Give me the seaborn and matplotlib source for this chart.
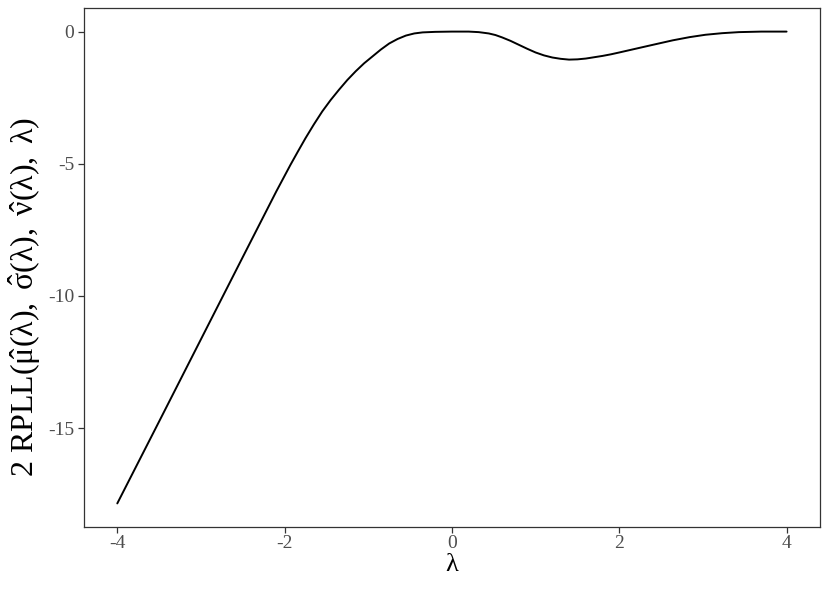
import numpy as np
import pandas as pd
import matplotlib
matplotlib.use("Agg")
import matplotlib.pyplot as plt
import seaborn as sns

# profile curve
lam = [-4.0, -3.5, -3.0, -2.5, -2.1, -1.93, -1.84, -1.75, -1.65, -1.55,
       -1.45, -1.35, -1.25, -1.15, -1.05, -0.95, -0.85, -0.75, -0.65, -0.55,
       -0.45, -0.35, -0.2, 0.0, 0.2, 0.32, 0.44, 0.52, 0.6, 0.7,
       0.8, 0.9, 1.0, 1.1, 1.2, 1.3, 1.4, 1.5, 1.6, 1.7,
       1.8, 1.9, 2.0, 2.18, 2.36, 2.64, 2.84, 3.03, 3.23, 3.43,
       3.7, 4.0]
rpll = [-17.85, -14.75, -11.64, -8.53, -6.05, -5.04, -4.53, -4.03, -3.51, -3.02,
        -2.59, -2.20, -1.83, -1.50, -1.20, -0.94, -0.68, -0.45, -0.28, -0.15,
        -0.07, -0.03, -0.01, 0.0, 0.0, -0.02, -0.07, -0.13, -0.22, -0.35,
        -0.50, -0.65, -0.79, -0.90, -0.98, -1.03, -1.06, -1.05, -1.02, -0.97,
        -0.92, -0.86, -0.79, -0.66, -0.53, -0.33, -0.21, -0.12, -0.06, -0.02,
        0.0, 0.0]

xticks = [-4, -2, 0, 2, 4]
yticks = [0, -5, -10, -15]

df = pd.DataFrame({"lam": lam, "rpll": rpll})

sns.set_theme(style="white")
plt.rcParams["font.family"] = ["Liberation Serif", "DejaVu Serif"]
plt.rcParams["mathtext.fontset"] = "custom"
plt.rcParams["mathtext.rm"] = "Liberation Serif"
plt.rcParams["mathtext.it"] = "Liberation Serif:italic"
plt.rcParams["axes.unicode_minus"] = False

fig = plt.figure(figsize=(8.3, 5.93), dpi=100)
ax = fig.add_axes([0.101, 0.1113, 0.887, 0.8752])

sns.lineplot(data=df, x="lam", y="rpll", color="black", linewidth=1.4, ax=ax)

# ggplot-like default expansion
yr = max(rpll) - min(rpll)
ax.set_ylim(min(rpll) - 0.05 * yr, max(rpll) + 0.05 * yr)
ax.set_xlim(-4.4, 4.4)
ax.set_xticks(xticks)
ax.set_yticks(yticks)
ax.set_xticklabels([str(t) for t in xticks])
ax.set_yticklabels([str(t) for t in yticks])

for s in ax.spines.values():
    s.set_color("#333333")
    s.set_linewidth(0.9)
ax.tick_params(axis="both", which="major", length=4, width=0.9, color="#333333",
               labelcolor="#4D4D4D", labelsize=14, pad=3, direction="out",
               bottom=True, left=True)
ax.tick_params(axis="x", pad=2)

ax.set_xlabel("λ", fontsize=19, color="black", labelpad=1)
ax.set_ylabel(r"2 RPLL($\mathrm{\hat{\mu}(\lambda),\ \hat{\sigma}(\lambda),\ \hat{\nu}(\lambda),\ \lambda}$)",
              fontsize=23, color="black")
ax.yaxis.set_label_coords(-0.055, 0.443)

fig.savefig("out.png", dpi=100)
